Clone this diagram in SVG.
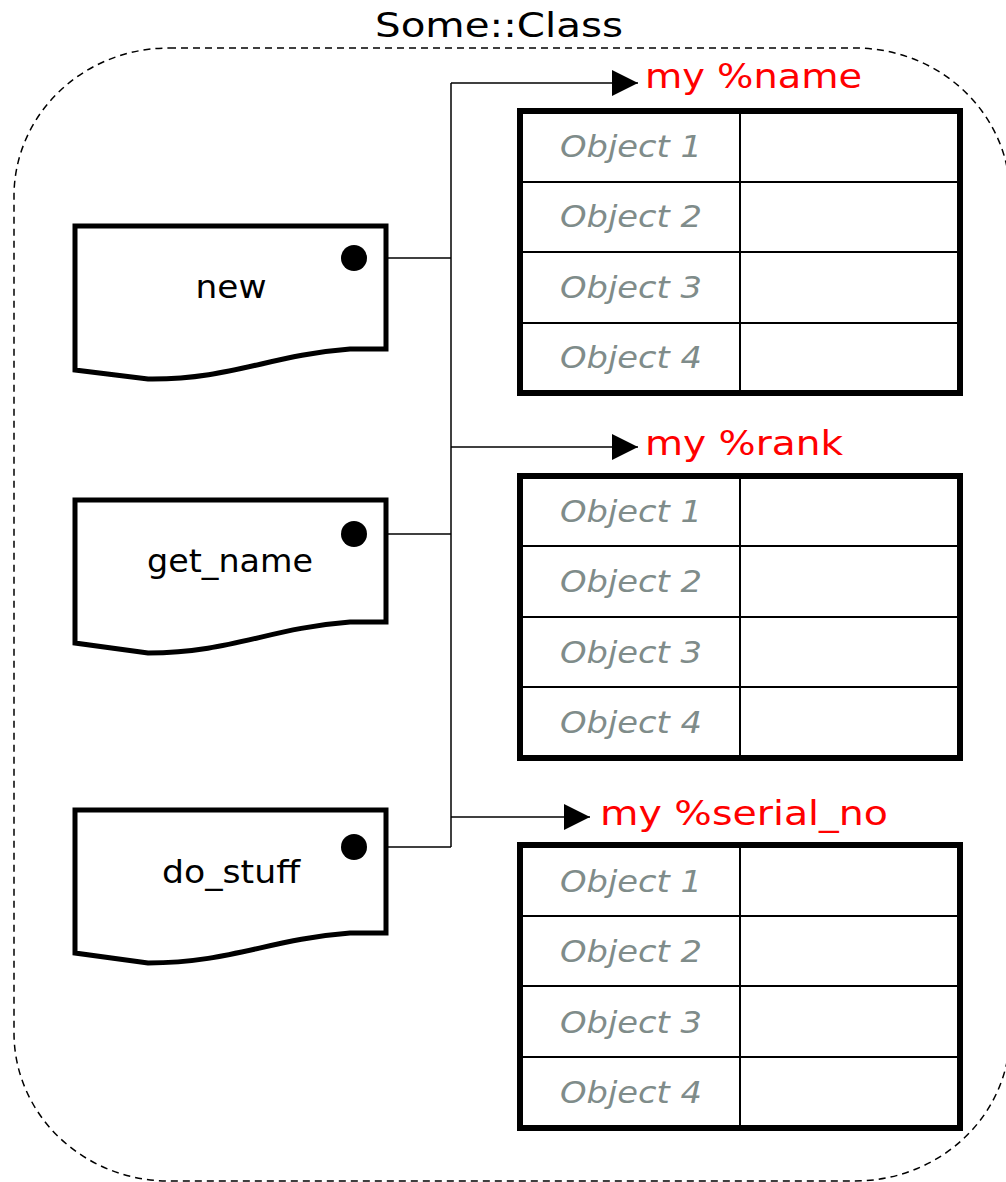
<svg xmlns="http://www.w3.org/2000/svg" width="1006" height="1182" viewBox="0 0 1006 1182">
<defs>
<style>
text{font-family:"DejaVu Sans","Liberation Sans",sans-serif}
.lbl{font-size:32px;fill:#000;text-anchor:middle}
.var{font-size:33px;fill:#ff0000}
.obj{font-size:30px;fill:#7f8c8a;font-style:italic;text-anchor:middle}
.doc{fill:#fff;stroke:#000;stroke-width:5;stroke-linejoin:miter}
.tbl{fill:#fff;stroke:#000;stroke-width:6}
.grid{stroke:#000;stroke-width:2;fill:none}
.conn{stroke:#000;stroke-width:1.5;fill:none}
</style>
<marker id="arr" markerWidth="26" markerHeight="26" refX="26" refY="13" markerUnits="userSpaceOnUse" orient="auto">
<path d="M0,0 L26,13 L0,26 Z" fill="#000"/>
</marker>
</defs>
<rect width="1006" height="1182" fill="#fff"/>
<g id="container">
<rect x="14" y="48" width="996" height="1133" rx="155" ry="148" fill="none" stroke="#000" stroke-width="1.5" stroke-dasharray="7,5"/>
<text x="499" y="37" font-size="34" text-anchor="middle" textLength="248" lengthAdjust="spacingAndGlyphs">Some::Class</text>
</g>
<g id="connectors">
<path class="conn" d="M451,83 V847"/>
<path class="conn" d="M451,83 H638" marker-end="url(#arr)"/>
<path class="conn" d="M451,447 H638" marker-end="url(#arr)"/>
<path class="conn" d="M451,817 H590" marker-end="url(#arr)"/>
<path class="conn" d="M354,258 H451"/>
<path class="conn" d="M354,534 H451"/>
<path class="conn" d="M354,847 H451"/>
</g>
<g id="node-new">
<path class="doc" d="M75,226 H386 V349 H350 C270,355 230,380 148,379 L75,370 Z"/>
<circle cx="354" cy="258" r="13" fill="#000"/>
<text class="lbl" x="231" y="298" textLength="71" lengthAdjust="spacingAndGlyphs">new</text>
</g>
<g id="node-get_name">
<path class="doc" d="M75,500 H386 V622 H350 C270,628 230,653 148,653 L75,643 Z"/>
<circle cx="354" cy="534" r="13" fill="#000"/>
<text class="lbl" x="230" y="572" textLength="166" lengthAdjust="spacingAndGlyphs">get_name</text>
</g>
<g id="node-do_stuff">
<path class="doc" d="M75,810 H386 V933 H350 C270,939 230,963 148,963 L75,953 Z"/>
<circle cx="354" cy="847" r="13" fill="#000"/>
<text class="lbl" x="231" y="883" textLength="138" lengthAdjust="spacingAndGlyphs">do_stuff</text>
</g>
<g id="hash-name">
<text class="var" x="645" y="88" textLength="217" lengthAdjust="spacingAndGlyphs">my %name</text>
<rect class="tbl" x="520" y="111" width="440" height="282"/>
<path class="grid" d="M520,182 H960 M520,252 H960 M520,323 H960 M740,111 V393"/>
<text class="obj" x="631" y="157" textLength="142" lengthAdjust="spacingAndGlyphs">Object 1</text>
<text class="obj" x="631" y="227" textLength="142" lengthAdjust="spacingAndGlyphs">Object 2</text>
<text class="obj" x="631" y="298" textLength="142" lengthAdjust="spacingAndGlyphs">Object 3</text>
<text class="obj" x="631" y="368" textLength="142" lengthAdjust="spacingAndGlyphs">Object 4</text>
</g>
<g id="hash-rank">
<text class="var" x="645" y="455" textLength="198" lengthAdjust="spacingAndGlyphs">my %rank</text>
<rect class="tbl" x="520" y="476" width="440" height="282"/>
<path class="grid" d="M520,546 H960 M520,617 H960 M520,687 H960 M740,476 V758"/>
<text class="obj" x="631" y="522" textLength="142" lengthAdjust="spacingAndGlyphs">Object 1</text>
<text class="obj" x="631" y="592" textLength="142" lengthAdjust="spacingAndGlyphs">Object 2</text>
<text class="obj" x="631" y="663" textLength="142" lengthAdjust="spacingAndGlyphs">Object 3</text>
<text class="obj" x="631" y="733" textLength="142" lengthAdjust="spacingAndGlyphs">Object 4</text>
</g>
<g id="hash-serial_no">
<text class="var" x="600" y="825" textLength="288" lengthAdjust="spacingAndGlyphs">my %serial_no</text>
<rect class="tbl" x="520" y="845" width="440" height="283"/>
<path class="grid" d="M520,916 H960 M520,986 H960 M520,1057 H960 M740,845 V1128"/>
<text class="obj" x="631" y="892" textLength="142" lengthAdjust="spacingAndGlyphs">Object 1</text>
<text class="obj" x="631" y="962" textLength="142" lengthAdjust="spacingAndGlyphs">Object 2</text>
<text class="obj" x="631" y="1033" textLength="142" lengthAdjust="spacingAndGlyphs">Object 3</text>
<text class="obj" x="631" y="1103" textLength="142" lengthAdjust="spacingAndGlyphs">Object 4</text>
</g>
</svg>
